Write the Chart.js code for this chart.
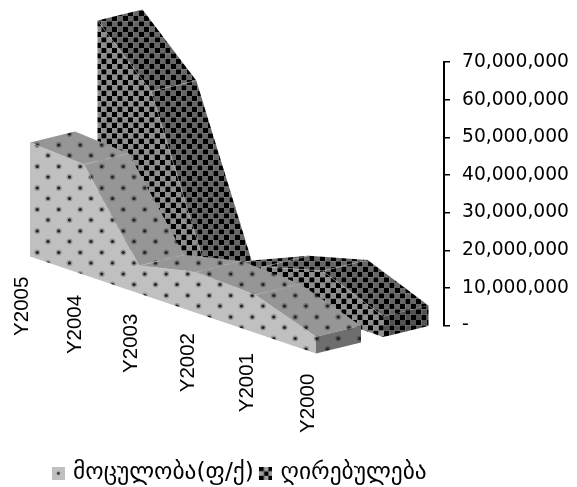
<!DOCTYPE html>
<html>
<head>
<meta charset="utf-8">
<style>
  html, body { margin: 0; padding: 0; background: #ffffff; }
  canvas { display: block; }
</style>
<script src="https://cdn.jsdelivr.net/npm/chart.js@4"></script>
</head>
<body>
<canvas id="areaChart" width="577" height="487"></canvas>
<script>
const categories = ['Y2005', 'Y2004', 'Y2003', 'Y2002', 'Y2001', 'Y2000'];
const seriesNames = ['მოცულობა(ფ/ქ)', 'ღირებულება'];
const volumeValues = [30300000, 29300000, 7400000, 10900000, 10100000, 4500000];
const costValues = [58300000, 44300000, 1500000, 7900000, 12100000, 5500000];

function toPattern(tile) {
  return document.createElement('canvas').getContext('2d').createPattern(tile, 'repeat');
}

// Dotted fill, two dots per 21.5px tile
function dotTile(base) {
  const tile = document.createElement('canvas');
  tile.width = 43;
  tile.height = 43;
  const c = tile.getContext('2d');
  c.fillStyle = base;
  c.fillRect(0, 0, 43, 43);
  [[5, 5], [26.5, 5], [15.75, 16], [37.25, 16], [5, 26.5], [26.5, 26.5], [15.75, 37.5], [37.25, 37.5]].forEach(([x, y]) => {
    c.fillStyle = 'rgba(0,0,0,0.22)';
    c.beginPath();
    c.arc(x, y, 3, 0, Math.PI * 2);
    c.fill();
    c.fillStyle = '#222222';
    c.beginPath();
    c.arc(x, y, 1.6, 0, Math.PI * 2);
    c.fill();
  });
  return tile;
}

// Checker fill, squares of 5.33px, softened a little
function checkTile(light) {
  const tile = document.createElement('canvas');
  tile.width = 32;
  tile.height = 32;
  const c = tile.getContext('2d');
  c.filter = 'blur(0.5px)';
  const cell = 32 / 6;
  for (let r = -2; r < 8; r++) {
    for (let k = -2; k < 8; k++) {
      c.fillStyle = (r + k + 16) % 2 === 0 ? '#000000' : light;
      c.fillRect(k * cell, r * cell, cell, cell);
    }
  }
  return tile;
}

function markerTile(draw) {
  const tile = document.createElement('canvas');
  tile.width = 13;
  tile.height = 13;
  draw(tile.getContext('2d'));
  return tile;
}

const volumeMarker = markerTile((c) => {
  c.fillStyle = '#c0c0c0';
  c.fillRect(0, 0, 13, 13);
  c.fillStyle = '#444444';
  c.beginPath();
  c.arc(6.5, 6.5, 1.7, 0, Math.PI * 2);
  c.fill();
});
const costMarker = markerTile((c) => {
  c.filter = 'blur(0.6px)';
  c.fillStyle = '#5a5a5a';
  c.fillRect(0, 0, 13, 13);
  c.fillStyle = '#000000';
  [[0, 0], [9, 0], [4.5, 4.5], [0, 9], [9, 9]].forEach(([x, y]) => c.fillRect(x, y, 4.5, 4.5));
  c.fillStyle = '#a0a0a0';
  [[4.5, 0], [0, 4.5], [9, 4.5], [4.5, 9]].forEach(([x, y]) => c.fillRect(x, y, 4.5, 4.5));
});

const faces = [
  {
    depth: [0, 1],
    front: toPattern(dotTile('#c0c0c0')),
    top: toPattern(dotTile('#969696')),
    end: toPattern(dotTile('#6e6e6e')),
    seam: 'rgba(190,190,190,0.7)',
    marker: volumeMarker,
  },
  {
    depth: [1.5, 2.5],
    front: toPattern(checkTile('#8e8e8e')),
    top: toPattern(checkTile('#666666')),
    end: toPattern(checkTile('#525252')),
    seam: 'rgba(190,190,190,0.55)',
    marker: costMarker,
  },
];

// Oblique view of the floor, with a little perspective along the categories
const floorSpanX = 286;
const floorRiseY = 97;
const floorDropY = -69;
const depthX = 45;
const depthY = -11;
const perspective = 1.08;

function project(chart, index, value, depth) {
  const xs = chart.scales.x;
  const ys = chart.scales.y;
  const t = (xs.getPixelForValue(index) - xs.left) / xs.width;
  const s = t / (t + perspective * (1 - t));
  return {
    x: xs.left + s * floorSpanX + depth * depthX,
    y: ys.getPixelForValue(value) + floorDropY + s * floorRiseY + depth * depthY,
  };
}

function poly(ctx, pts, fill) {
  ctx.beginPath();
  pts.forEach((p, i) => (i ? ctx.lineTo(p.x, p.y) : ctx.moveTo(p.x, p.y)));
  ctx.closePath();
  ctx.fillStyle = fill;
  ctx.fill();
}

const areas3d = {
  id: 'areas3d',
  afterLayout(chart) {
    // legend sits left of centre and lower than the library puts it
    chart.legend.right -= 96;
    chart.legend.left -= 29;
    chart.legend.top += 8;
  },
  beforeDatasetsDraw(chart) {
    const ctx = chart.ctx;
    // back series first
    for (let d = chart.data.datasets.length - 1; d >= 0; d--) {
      const data = chart.data.datasets[d].data;
      const look = faces[d];
      const [near, far] = look.depth;
      const last = data.length - 1;
      for (let i = 0; i < last; i++) {
        poly(ctx, [
          project(chart, i, data[i], near),
          project(chart, i, data[i], far),
          project(chart, i + 1, data[i + 1], far),
          project(chart, i + 1, data[i + 1], near),
        ], look.top);
      }
      const frontTop = data.map((v, i) => project(chart, i, v, near));
      poly(ctx, frontTop.concat([project(chart, last, 0, near), project(chart, 0, 0, near)]), look.front);
      poly(ctx, [
        project(chart, last, data[last], near),
        project(chart, last, data[last], far),
        project(chart, last, 0, far),
        project(chart, last, 0, near),
      ], look.end);

      ctx.strokeStyle = look.seam;
      ctx.lineWidth = 0.8;
      for (let i = 1; i < last; i++) {
        const a = project(chart, i, data[i], near);
        const b = project(chart, i, data[i], far);
        ctx.beginPath();
        ctx.moveTo(a.x, a.y);
        ctx.lineTo(b.x, b.y);
        ctx.stroke();
      }
      ctx.beginPath();
      frontTop.forEach((p, i) => (i ? ctx.lineTo(p.x, p.y) : ctx.moveTo(p.x, p.y)));
      ctx.stroke();
    }
  },
  afterDatasetsDraw(chart) {
    // category labels follow the slanted floor
    const ctx = chart.ctx;
    ctx.save();
    ctx.fillStyle = '#000000';
    ctx.font = '20.5px "Liberation Sans"';
    ctx.textAlign = 'right';
    ctx.textBaseline = 'middle';
    categories.forEach((label, i) => {
      const p = project(chart, i, 0, 0);
      ctx.save();
      ctx.translate(p.x - 8, p.y + 20);
      ctx.rotate(-Math.PI / 2);
      ctx.fillText(label, 0, 0);
      ctx.restore();
    });
    ctx.restore();
  },
};

new Chart(document.getElementById('areaChart'), {
  type: 'line',
  data: {
    labels: categories,
    datasets: [
      { label: seriesNames[0], data: volumeValues, showLine: false, pointRadius: 0, borderWidth: 0 },
      { label: seriesNames[1], data: costValues, showLine: false, pointRadius: 0, borderWidth: 0 },
    ],
  },
  options: {
    responsive: false,
    animation: false,
    devicePixelRatio: 1,
    layout: { padding: { top: 62, left: 30, right: 0, bottom: 0 } },
    scales: {
      x: {
        type: 'category',
        offset: false,
        grid: { display: false },
        border: { display: false },
        ticks: { display: false },
        afterFit: (scale) => { scale.height = 119; },
      },
      y: {
        position: 'right',
        min: 0,
        max: 70000000,
        afterFit: (scale) => { scale.width = 133; },
        border: { display: true, color: '#000000', width: 2 },
        grid: { drawOnChartArea: false, color: '#000000', tickLength: 6, lineWidth: 1.5 },
        ticks: {
          stepSize: 10000000,
          color: '#000000',
          padding: 12,
          font: { family: '"DejaVu Sans"', size: 18.7 },
          callback: (v) => (v === 0 ? '-' : v.toLocaleString('en-US')),
        },
      },
    },
    plugins: {
      tooltip: { enabled: false },
      legend: {
        position: 'bottom',
        labels: {
          color: '#000000',
          usePointStyle: true,
          pointStyleWidth: 6,
          padding: 9,
          font: { family: '"DejaVu Sans"', size: 23.4 },
          generateLabels: (chart) => chart.data.datasets.map((ds, i) => ({
            text: ds.label,
            pointStyle: faces[i].marker,
            fontColor: '#000000',
            lineWidth: 0,
            datasetIndex: i,
          })),
        },
      },
    },
  },
  plugins: [areas3d],
});
</script>
</body>
</html>
